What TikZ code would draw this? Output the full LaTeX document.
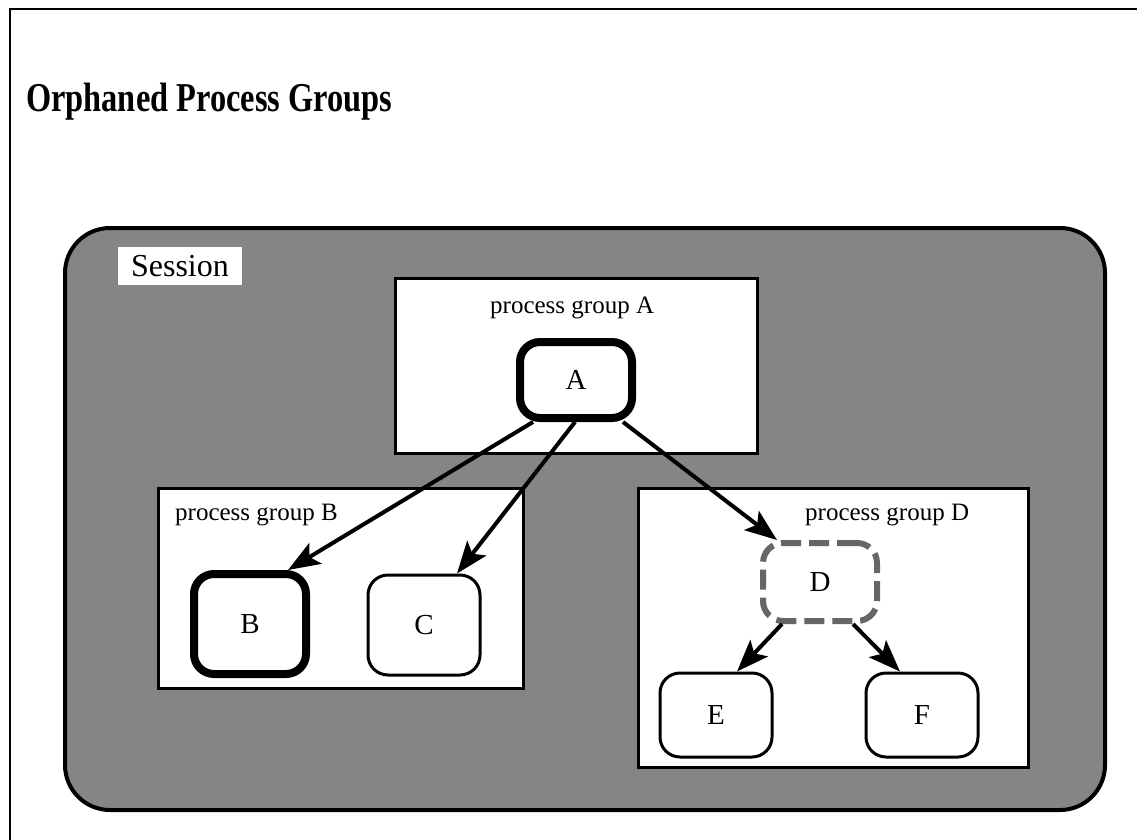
\documentclass[tikz,border=0pt]{standalone}
\usepackage{fontspec}
\setmainfont{Liberation Serif}
\usetikzlibrary{arrows.meta,positioning}

\begin{document}
\begin{tikzpicture}[x=1pt, y=-1pt, every node/.style={font=\fontsize{25}{28}\selectfont, inner sep=0pt}]
\tikzset{group/.style={draw, line width=3pt, fill=white, rectangle}}
\tikzset{proc/.style={draw, line width=3pt, fill=white, rounded corners=20pt, minimum width=112pt, minimum height=100pt, font=\fontsize{29}{31}\selectfont}}
\tikzset{leader/.style={proc, line width=8pt}}
\tikzset{orphan/.style={proc, draw=black!60, line width=6pt, dash pattern=on 20pt off 8pt}}
\tikzset{arrow/.style={-{Stealth[length=32pt, width=24pt, inset=7pt]}, line width=4pt}}
\tikzset{glabel/.style={anchor=base west}}
\useasboundingbox (0,0) rectangle (1137,840);
\fill[white] (0,0) rectangle (1137,840);
\draw[line width=2pt] (10,840) -- (10,9) -- (1137,9);
\node[anchor=base west, font=\fontsize{41}{44}\selectfont\bfseries] (title) at (26,112) {\scalebox{0.79}[1]{Orphaned Process Groups}};
% session and its groups
\node[draw, line width=4pt, fill=black!48, rounded corners=45pt, minimum width=1040pt, minimum height=582pt] (session) at (585,519) {};
\node[fill=white, minimum width=124pt, minimum height=38pt, font=\fontsize{32}{34}\selectfont] (sesslbl) at (180,266) {Session};
\node[group, minimum width=362pt, minimum height=175pt] (grpA) at (576,365.5) {};
\node[group, minimum width=365pt, minimum height=200pt] (grpB) at (340.5,588) {};
\node[group, minimum width=390pt, minimum height=279pt] (grpD) at (833,627.5) {};
\node[glabel] (lblA) at (490,313) {process group A};
\node[glabel] (lblB) at (175,520) {process group B};
\node[glabel] (lblD) at (805,520) {process group D};
% processes
\node[leader, minimum width=112pt, minimum height=76pt] (A) at (576,380) {A};
\node[leader] (B) at (250,624) {B};
\node[proc] (C) at (424,625) {C};
\node[orphan, minimum width=114pt, minimum height=78pt] (D) at (820,582) {D};
\node[proc, minimum height=84pt] (E) at (716,715) {E};
\node[proc, minimum height=84pt] (F) at (922,715) {F};
\draw[arrow] ([xshift=-43pt]A.south) -- ([xshift=38pt]B.north);
\draw[arrow] ([xshift=-1pt]A.south) -- ([xshift=33pt]C.north);
\draw[arrow] ([xshift=47pt]A.south) -- ([xshift=-43pt]D.north);
\draw[arrow] ([xshift=-38pt]D.south) -- ([xshift=21pt]E.north);
\draw[arrow] ([xshift=33pt]D.south) -- ([xshift=-22pt]F.north);
\end{tikzpicture}
\end{document}
